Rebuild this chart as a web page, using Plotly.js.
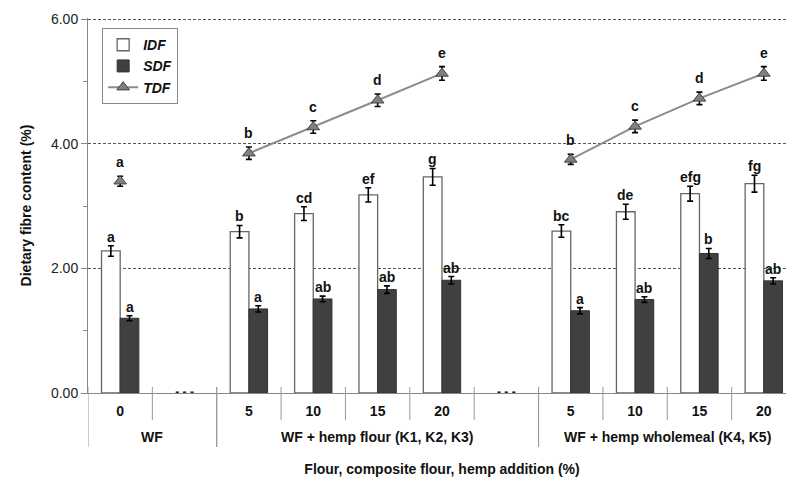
<!DOCTYPE html>
<html><head><meta charset="utf-8">
<script src="https://cdn.plot.ly/plotly-3.0.1.min.js"></script>
<style>html,body{margin:0;padding:0;overflow:hidden;background:#fff}</style>
</head><body><div id="chart"></div>
<script>
const groups = ["WF","WF",
  "WF + hemp flour (K1, K2, K3)","WF + hemp flour (K1, K2, K3)","WF + hemp flour (K1, K2, K3)","WF + hemp flour (K1, K2, K3)","WF + hemp flour (K1, K2, K3)",
  "WF + hemp wholemeal (K4, K5)","WF + hemp wholemeal (K4, K5)","WF + hemp wholemeal (K4, K5)","WF + hemp wholemeal (K4, K5)"];
const additions = ["0","","5","10","15","20","","5","10","15","20"];
const idf    = [2.28,null,2.59,2.88,3.18,3.47,null,2.60,2.91,3.20,3.36];
const idfErr = [0.085,null,0.10,0.11,0.115,0.135,null,0.10,0.12,0.12,0.135];
const sdf    = [1.20,null,1.35,1.51,1.66,1.81,null,1.32,1.50,2.24,1.80];
const sdfErr = [0.04,null,0.05,0.045,0.06,0.06,null,0.05,0.045,0.08,0.05];
const tdf    = [3.40,null,3.85,4.27,4.70,5.13,null,3.75,4.28,4.73,5.13];
const tdfErr = [0.08,null,0.10,0.10,0.10,0.11,null,0.08,0.10,0.10,0.11];
const idfLetters = ["a","","b","cd","ef","g","","bc","de","efg","fg"];
const sdfLetters = ["a","","a","ab","ab","ab","","a","ab","b","ab"];
const tdfLetters = ["a","","b","c","d","e","","b","c","d","e"];
const blankMarks = [null,0,null,null,null,null,0,null,null,null,null];

const FONT = '"Liberation Sans", Arial, Helvetica, sans-serif';
const xpos = additions.map((_, i) => i);   // slot index of each category
const BARW = 0.29;

const traces = [
  {type:'bar', name:'IDF', x:xpos, y:idf,
   marker:{color:'#ffffff', line:{color:'#666', width:1.3}},
   error_y:{type:'data', array:idfErr, visible:true, color:'#000', thickness:1.6, width:3},
   hoverinfo:'y'},
  {type:'bar', name:'SDF', x:xpos, y:sdf,
   marker:{color:'#404040', line:{color:'#333', width:1}},
   error_y:{type:'data', array:sdfErr, visible:true, color:'#000', thickness:1.6, width:3},
   hoverinfo:'y'},
  {type:'scatter', mode:'lines+markers', name:'TDF', x:xpos, y:tdf, connectgaps:false,
   line:{color:'#8c8c8c', width:2},
   marker:{symbol:'triangle-up', size:11, color:'#808080', line:{color:'#444', width:1}},
   error_y:{type:'data', array:tdfErr, visible:true, color:'#000', thickness:1.6, width:3},
   hoverinfo:'y'},
  {type:'scatter', mode:'text', x:xpos, y:blankMarks, text:blankMarks.map(v => v===null ? '' : '- - -'),
   textposition:'middle center', cliponaxis:false, textfont:{family:FONT, size:12, color:'#222', weight:'bold'},
   showlegend:false, hoverinfo:'skip'}
];

const annotations = [];
function addLetters(vals, errs, letters, dx, ys) {
  vals.forEach((v, i) => {
    if (v === null || !letters[i]) return;
    annotations.push({x:xpos[i]+dx, y:v+errs[i], xref:'x', yref:'y', text:letters[i], showarrow:false,
      yanchor:'bottom', yshift:ys, font:{family:FONT, size:14, color:'#111', weight:'bold'}});
  });
}
addLetters(idf, idfErr, idfLetters, -BARW/2, -1);
addLetters(sdf, sdfErr, sdfLetters, BARW/2, -1);
addLetters(tdf, tdfErr, tdfLetters, 0, 4);

// group labels and dividers built from the groups array
const shapes = [];
const groupNames = [...new Set(groups)];
groupNames.forEach(g => {
  const first = groups.indexOf(g), last = groups.lastIndexOf(g);
  annotations.push({x:(xpos[first]+xpos[last])/2, y:-0.117, xref:'x', yref:'paper', text:g, showarrow:false,
    yanchor:'middle', font:{family:FONT, size:14, color:'#111', weight:'bold'}});
  [xpos[first]-0.5, xpos[last]+0.5].forEach(b => shapes.push({type:'line', xref:'x', yref:'paper',
    x0:b, x1:b, y0:0.016, y1:-0.144, line:{color:'#999', width:1}}));
});
for (let i = 0; i < groups.length - 1; i++) {
  if (groups[i] === groups[i+1]) {
    shapes.push({type:'line', xref:'x', yref:'paper', x0:i+0.5, x1:i+0.5, y0:0.016, y1:-0.072,
      line:{color:'#999', width:1}});
  }
}

const layout = {
  width:800, height:488,
  margin:{l:88, r:4, t:18, b:95},
  paper_bgcolor:'#fff', plot_bgcolor:'#fff',
  font:{family:FONT, color:'#111', size:13},
  barmode:'group', bargap:0.42, bargroupgap:0,
  showlegend:true,
  legend:{x:0.02, y:0.973, xanchor:'left', yanchor:'top', bgcolor:'#fff', bordercolor:'#888', borderwidth:1,
    font:{family:FONT, size:14, weight:'bold', style:'italic', color:'#111'}, tracegroupgap:0},
  xaxis:{type:'linear', range:[-0.5,10.5], tickvals:xpos, ticktext:additions, ticks:'', ticklabelstandoff:5,
    showline:true, linecolor:'#888', linewidth:1,
    tickfont:{family:FONT, size:14, weight:'bold', color:'#111'},
    showgrid:false, zeroline:false,
    title:{text:'Flour, composite flour, hemp addition (%)', font:{family:FONT, size:14, weight:'bold', color:'#111'}, standoff:46}},
  yaxis:{range:[0,6.02], tick0:0, dtick:2, tickformat:'.2f', ticks:'outside', ticklen:6, tickcolor:'#888',
    showline:true, linecolor:'#888', linewidth:1,
    showgrid:true, gridcolor:'#555', griddash:'3px,2px', gridwidth:1, zeroline:false,
    tickfont:{family:FONT, size:14, color:'#222'},
    minor:{dtick:1, ticks:'outside', ticklen:4, tickcolor:'#888', showgrid:false},
    title:{text:'Dietary fibre content (%)', font:{family:FONT, size:14, weight:'bold', color:'#111'}, standoff:16}},
  annotations:annotations,
  shapes:shapes
};

Plotly.newPlot('chart', traces, layout, {displayModeBar:false, staticPlot:true});
</script>
</body></html>
